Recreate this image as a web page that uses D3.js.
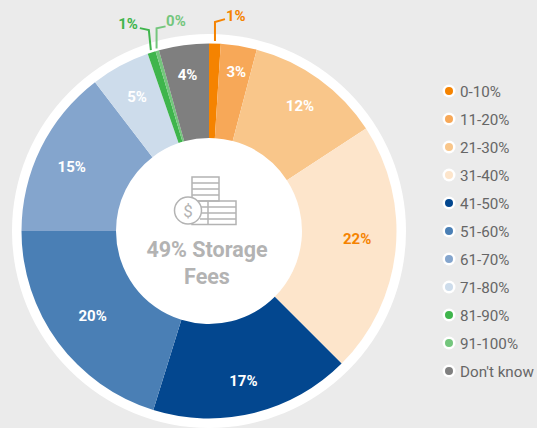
<!DOCTYPE html>
<html>
<head>
<meta charset="utf-8">
<script src="https://cdn.jsdelivr.net/npm/d3@7"></script>
<style>
  html, body { margin: 0; padding: 0; background: #ebebeb; }
  svg { display: block; font-family: Roboto, sans-serif; }
</style>
</head>
<body>
<div id="chart"></div>
<script>
var categories = ["0-10%", "11-20%", "21-30%", "31-40%", "41-50%", "51-60%", "61-70%", "71-80%", "81-90%", "91-100%", "Don't know"];
var shares = [1.0, 3.1, 11.7, 21.7, 17.3, 20.2, 14.6, 5.1, 0.7, 0.3, 4.3];
var colours = ["#f58300", "#f7a858", "#f9c68a", "#fde5cb", "#03478f", "#4a7fb5", "#84a5cd", "#cddceb", "#3fb54c", "#74c67d", "#7f7f7f"];
var labelColours = ["#f58300", "#fff", "#fff", "#f58300", "#fff", "#fff", "#fff", "#fff", "#3fb54c", "#74c67d", "#fff"];
var centreLines = ["49% Storage", "Fees"];

var width = 537, height = 428;
var cx = 209, cy = 231;

var svg = d3.select("#chart").append("svg")
  .attr("width", width)
  .attr("height", height);

var plot = svg.append("g").attr("transform", "translate(" + cx + "," + cy + ")");

plot.append("circle")
  .attr("r", 197)
  .attr("fill", "#fff");

var pie = d3.pie().sort(null).value(function (d) { return d; });
var arcs = pie(shares);
var arc = d3.arc().innerRadius(93).outerRadius(187.5);
var labelArc = d3.arc().innerRadius(152).outerRadius(152);
var leaderArc = d3.arc().innerRadius(190).outerRadius(190);

plot.selectAll("path.slice")
  .data(arcs)
  .enter()
  .append("path")
  .attr("class", "slice")
  .attr("d", arc)
  .attr("fill", function (d, i) { return colours[i]; });

// nudges for the labels that sit inside the slices
var nudges = {
  1: [3, -9], 2: [2, -2], 3: [-3, -8], 4: [-2, 2], 5: [6, -5], 6: [-1, 3], 7: [0, 0], 10: [-1, -5]
};

// the three thin slices get their labels outside, on a bent leader
var outside = {
  0: { bend: [[0, -19], [10, -22]], anchor: "start", dx: 11, dy: -20 },
  8: { bend: [[-2, -20], [-11, -22]], anchor: "end", dx: -13, dy: -21 },
  9: { bend: [[0, -20], [9, -22]], anchor: "start", dx: 9.5, dy: -22 }
};

var fmt = d3.format(".0f");

plot.selectAll("text.value")
  .data(arcs)
  .enter()
  .append("text")
  .attr("class", "value")
  .attr("text-anchor", function (d, i) { return outside[i] ? outside[i].anchor : "middle"; })
  .attr("font-size", 15)
  .attr("font-weight", 700)
  .attr("fill", function (d, i) { return labelColours[i]; })
  .attr("x", function (d, i) {
    if (outside[i]) return leaderArc.centroid(d)[0] + outside[i].dx;
    return labelArc.centroid(d)[0] + nudges[i][0];
  })
  .attr("y", function (d, i) {
    if (outside[i]) return leaderArc.centroid(d)[1] + outside[i].dy;
    return labelArc.centroid(d)[1] + 5 + nudges[i][1];
  })
  .text(function (d) { return fmt(d.value) + "%"; });

Object.keys(outside).forEach(function (key) {
  var i = +key;
  var p = leaderArc.centroid(arcs[i]);
  var o = outside[i];
  var mid = [p[0] + o.bend[0][0], p[1] + o.bend[0][1]];
  var end = [p[0] + o.bend[1][0], p[1] + o.bend[1][1]];
  plot.append("path")
    .attr("d", d3.line()([p, mid, end]))
    .attr("fill", "none")
    .attr("stroke", labelColours[i])
    .attr("stroke-width", 2);
});

// storage icon
var grey = "#b3b3b3";
var icon = svg.append("g")
  .attr("fill", "none")
  .attr("stroke", grey)
  .attr("stroke-width", 1.5);
icon.append("rect").attr("x", 192).attr("y", 177).attr("width", 27).attr("height", 24);
icon.append("rect").attr("x", 192).attr("y", 201).attr("width", 44).attr("height", 23.5);
[183, 189, 195].forEach(function (y) {
  icon.append("line").attr("x1", 192).attr("x2", 219).attr("y1", y).attr("y2", y);
});
[207, 213, 219].forEach(function (y) {
  icon.append("line").attr("x1", 200).attr("x2", 236).attr("y1", y).attr("y2", y);
});
icon.append("line").attr("x1", 208).attr("x2", 208).attr("y1", 201).attr("y2", 224);
icon.append("circle").attr("cx", 188).attr("cy", 210.5).attr("r", 13.5).attr("fill", "#fff");
icon.append("text")
  .attr("x", 188).attr("y", 216.5)
  .attr("text-anchor", "middle")
  .attr("font-size", 17)
  .attr("fill", grey)
  .attr("stroke", "none")
  .text("$");

svg.selectAll("text.centre")
  .data(centreLines)
  .enter()
  .append("text")
  .attr("class", "centre")
  .attr("x", 207)
  .attr("y", function (d, i) { return 257 + i * 27; })
  .attr("text-anchor", "middle")
  .attr("font-size", 21.5)
  .attr("font-weight", 700)
  .attr("fill", grey)
  .text(function (d) { return d; });

var legendY = d3.scalePoint().domain(categories).range([91, 371]);

var legend = svg.selectAll("g.legend")
  .data(categories)
  .enter()
  .append("g")
  .attr("class", "legend")
  .attr("transform", function (d) { return "translate(449," + legendY(d) + ")"; });

legend.append("circle").attr("r", 6.5).attr("fill", "#fff");
legend.append("circle").attr("r", 4).attr("fill", function (d, i) { return colours[i]; });
legend.append("text")
  .attr("x", 11)
  .attr("y", 5.5)
  .attr("font-size", 15.2)
  .attr("fill", "#666")
  .text(function (d) { return d; });
</script>
</body>
</html>
